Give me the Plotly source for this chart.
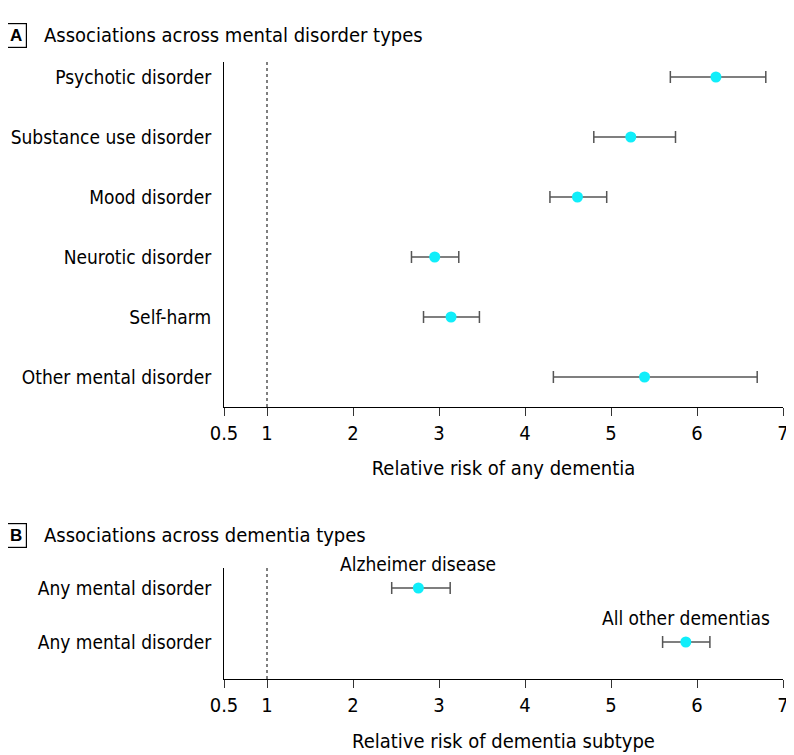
import plotly.graph_objects as go

# Panel A data
disorders = ["Psychotic disorder", "Substance use disorder", "Mood disorder",
             "Neurotic disorder", "Self-harm", "Other mental disorder"]
rr_a = [6.22, 5.23, 4.61, 2.95, 3.14, 5.39]
lo_a = [5.69, 4.80, 4.29, 2.68, 2.82, 4.33]
hi_a = [6.80, 5.75, 4.95, 3.23, 3.47, 6.70]

# Panel B data
subtype_rows = ["Any mental disorder", "Any mental disorder"]
subtypes = ["Alzheimer disease", "All other dementias"]
rr_b = [2.76, 5.87]
lo_b = [2.45, 5.60]
hi_b = [3.13, 6.15]

xticks = [0.5, 1, 2, 3, 4, 5, 6, 7]
xticklabels = ["0.5", "1", "2", "3", "4", "5", "6", "7"]

FONT = "DejaVu Sans Condensed, Roboto, sans-serif"
CYAN = "#10EEFA"
GREY = "#555555"

fig = go.Figure()

ya = list(range(len(disorders) - 1, -1, -1))
fig.add_trace(go.Scatter(
    x=rr_a, y=ya, mode="markers",
    marker=dict(color=CYAN, size=11),
    error_x=dict(type="data", symmetric=False,
                 array=[h - r for h, r in zip(hi_a, rr_a)],
                 arrayminus=[r - l for r, l in zip(rr_a, lo_a)],
                 color=GREY, thickness=1.5, width=6),
    xaxis="x", yaxis="y", showlegend=False, hoverinfo="skip"))

yb = [1, 0]
fig.add_trace(go.Scatter(
    x=rr_b, y=yb, mode="markers",
    marker=dict(color=CYAN, size=11),
    error_x=dict(type="data", symmetric=False,
                 array=[h - r for h, r in zip(hi_b, rr_b)],
                 arrayminus=[r - l for r, l in zip(rr_b, lo_b)],
                 color=GREY, thickness=1.5, width=6),
    xaxis="x2", yaxis="y2", showlegend=False, hoverinfo="skip"))

OFF = 8  # default page body margin
W, H = 794 - OFF, 755 - OFF
L, R = 224 - OFF, 11
def ypaper(px):
    return (H - (px - OFF)) / H
def xpaper(px):
    return (px - OFF - L) / (W - L - R)

common_x = dict(range=[0.5, 7.0], tickvals=xticks, ticktext=xticklabels,
                showline=True, linecolor="black", linewidth=1, automargin=False,
                ticks="outside", ticklen=8, tickcolor="#333333", tickwidth=1,
                showgrid=False, zeroline=False,
                tickfont=dict(family=FONT, size=20, color="black"))
common_y = dict(showline=True, linecolor="black", linewidth=1, ticks="",
                showgrid=False, zeroline=False, ticklabelstandoff=8, automargin=False,
                tickfont=dict(family=FONT, size=19, color="black"))

fig.update_layout(
    width=W, height=H,
    margin=dict(l=L, r=R, t=0, b=0),
    paper_bgcolor="white", plot_bgcolor="white",
    xaxis=dict(**common_x, anchor="y",
               title=dict(text="Relative risk of any dementia",
                          font=dict(family=FONT, size=20, color="black"), standoff=16)),
    yaxis=dict(**common_y, domain=[ypaper(407), ypaper(62)], anchor="x",
               range=[-0.5, 5.25], tickvals=ya, ticktext=disorders),
    xaxis2=dict(**common_x, anchor="y2",
                title=dict(text="Relative risk of dementia subtype",
                           font=dict(family=FONT, size=20, color="black"), standoff=17)),
    yaxis2=dict(**common_y, domain=[ypaper(679), ypaper(568)], anchor="x2",
                range=[-0.685, 1.37], tickvals=yb, ticktext=subtype_rows),
)

# dotted reference lines at RR = 1
for yref, y0, y1 in [("y", -0.5, 5.25), ("y2", -0.685, 1.37)]:
    fig.add_shape(type="line", xref="x" if yref == "y" else "x2", yref=yref,
                  x0=1, x1=1, y0=y0, y1=y1,
                  line=dict(color="#555555", width=1.5, dash="dot"))

# panel titles
for letter, title, ypx in [("A", "Associations across mental disorder types", 35),
                           ("B", "Associations across dementia types", 535)]:
    fig.add_annotation(xref="paper", yref="paper", x=xpaper(16), y=ypaper(ypx),
                       text="<b>%s</b>" % letter, showarrow=False,
                       font=dict(family="Liberation Sans", size=17, color="black"),
                       bordercolor="black", borderwidth=1.2, borderpad=3,
                       width=14, height=17, xanchor="center", yanchor="middle")
    fig.add_annotation(xref="paper", yref="paper", x=xpaper(42), y=ypaper(ypx),
                       text=title, showarrow=False, xanchor="left", yanchor="middle",
                       font=dict(family=FONT, size=20, color="black"))

# subtype labels
for name, x, y in zip(subtypes, rr_b, yb):
    fig.add_annotation(xref="x2", yref="y2", x=x, y=y, text=name, showarrow=False,
                       yshift=24, xanchor="center", yanchor="middle",
                       font=dict(family=FONT, size=19, color="black"))

fig.write_html("out.html")
